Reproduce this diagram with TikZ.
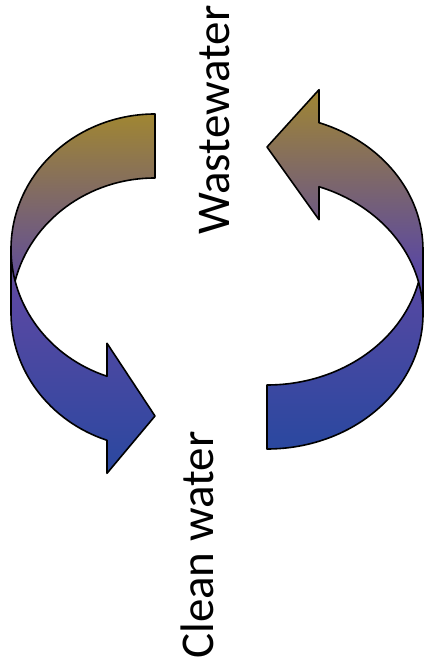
\documentclass[tikz,border=0pt]{standalone}
\usepackage{fontspec}
\setmainfont{Carlito}
\usetikzlibrary{calc}
\definecolor{bandgold}{RGB}{160,134,50}
\definecolor{bandviolet}{RGB}{90,72,162}
\definecolor{bandblue}{RGB}{42,72,160}
\begin{document}
\begin{tikzpicture}[x=1pt, y=1pt,
  band/.style={draw=black, line width=1.6pt, line join=round,
    top color=bandgold, bottom color=bandblue, middle color=bandviolet},
  lbl/.style={font=\fontsize{47}{56}\selectfont, rotate=90, anchor=base west, inner sep=0pt}
]
\useasboundingbox (0,0) rectangle (424,666);

% left arrow, heading down to the clean water
\coordinate (lo) at (155,417);
\coordinate (li) at (155,353);
\path[band, x radius=144, y radius=135]
  ($(lo)+(180:144 and 135)$) arc[start angle=180, end angle=250.53]
  -- ++(0,33) -- (155,250) -- (107,192.7) -- (107,225.7)
  arc[start angle=250.53, end angle=180] -- cycle
  ($(lo)+(193.7:144 and 135)$) arc[start angle=193.7, end angle=90]
  -- ++(0,-64) arc[start angle=90, end angle=166.3] -- cycle;

% right arrow, heading up to the wastewater
\coordinate (ro) at (267,352);
\coordinate (ri) at (267,416);
\path[band, x radius=156, y radius=135]
  ($(ro)+(0:156 and 135)$) arc[start angle=0, end angle=70.53]
  -- ++(0,-33) -- (267,519) -- (319,576.3) -- (319,543.3)
  arc[start angle=70.53, end angle=0] -- cycle
  ($(ro)+(13.7:156 and 135)$) arc[start angle=13.7, end angle=-90]
  -- ++(0,64) arc[start angle=-90, end angle=-13.7] -- cycle;

\node[lbl] (waste) at (229,431) {Wastewater};
\node[lbl] (clean) at (213,7) {Clean water};
\end{tikzpicture}
\end{document}
